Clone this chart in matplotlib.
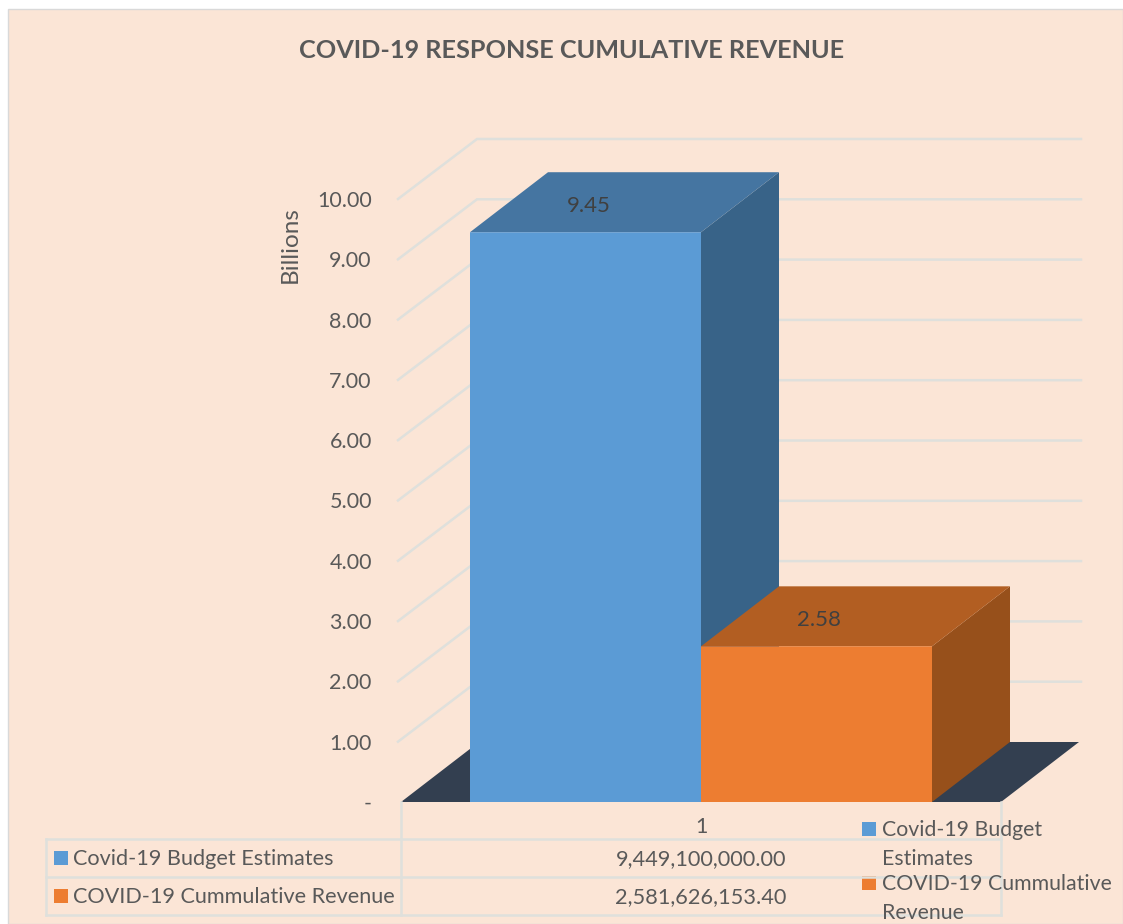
import matplotlib
matplotlib.use("Agg")
import matplotlib.pyplot as plt
from matplotlib.patches import Rectangle

plt.rcParams["font.family"] = ["Lato", "DejaVu Sans"]

W, H = 1123, 924
BG = "#fbe5d6"
GRID = "#dfe0dc"
TXT = "#595959"

# data
series = ["Covid-19 Budget Estimates", "COVID-19 Cummulative Revenue"]
legend_lines = [["Covid-19 Budget", "Estimates"], ["COVID-19 Cummulative", "Revenue"]]
amounts = [9449100000.00, 2581626153.40]
labels = ["9.45", "2.58"]
ticks = [0, 1, 2, 3, 4, 5, 6, 7, 8, 9, 10]
colors = ["#5b9bd5", "#ed7d31"]
top_colors = ["#4575a1", "#b25e22"]
side_colors = ["#386388", "#97501b"]

billions = [a / 1e9 for a in amounts]

fig = plt.figure(figsize=(W / 100, H / 100), dpi=100, facecolor="white")

# background and table live on a pixel axes
bg = fig.add_axes([0, 0, 1, 1], zorder=0)
bg.set_xlim(0, W)
bg.set_ylim(H, 0)
bg.axis("off")
bg.add_patch(Rectangle((8, 9), W - 8, H - 9, fc=BG, ec="#d9d9d9", lw=1))

# main axes is the front plane of the 3d box
ax = fig.add_axes([401 / W, 1 - 802 / H, 600 / W, 603 / H], zorder=1)
ax.patch.set_alpha(0)
px_x = 231.0          # pixels per bar width
px_y = 60.3           # pixels per billion
ax.set_xlim(-0.5 - 69 / px_x, 1.5 + 69 / px_x)
ax.set_ylim(0, 10)
for s in ax.spines.values():
    s.set_visible(False)

dx = 78 / px_x        # depth of the box in data units
dy = 60 / px_y
x0, x1 = ax.get_xlim()

# walls
for t in ticks[1:]:
    ax.plot([x0 - 3 / px_x, x0 + dx - 2 / px_x, x1 + dx + 2 / px_x], [t, t + dy, t + dy],
            color=GRID, lw=1.8, zorder=1, clip_on=False, solid_joinstyle="miter")

# floor
ax.fill([x0, x1, x1 + dx, x0 + dx], [0, 0, dy, dy], color="#333f50", lw=0, zorder=2, clip_on=False)

# bars, left one first so the right one sits in front of its side
positions = [0, 1]
for i in [0, 1]:
    p, v = positions[i], billions[i]
    l, r = p - 0.5, p + 0.5
    ax.fill([r, r + dx, r + dx, r], [0, dy, v + dy, v], color=side_colors[i], lw=0, zorder=3 + i, clip_on=False)
    ax.fill([l, r, r + dx, l + dx], [v, v, v + dy, v + dy], color=top_colors[i], lw=0, zorder=3 + i, clip_on=False)
    bar = ax.bar(p, v, width=1, color=colors[i], zorder=3 + i, clip_on=False)
    bar[0].set_snap(False)
    ax.text(p + 3 / px_x, v + 26 / px_y, labels[i], ha="center", va="center", fontsize=16, color="#404040", zorder=8)

ax.set_yticks(ticks)
ax.set_yticklabels(["-"] + ["%.2f" % t for t in ticks[1:]], fontsize=15.5, color=TXT)
ax.set_xticks([0.5])
ax.set_xticklabels(["1"], fontsize=15.5, color=TXT)
ax.tick_params(axis="y", length=0, pad=21)
ax.tick_params(axis="x", length=0, pad=11)

# overlay for axis title, table and legend
top = fig.add_axes([0, 0, 1, 1], zorder=2)
top.set_xlim(0, W)
top.set_ylim(H, 0)
top.axis("off")
top.patch.set_alpha(0)

top.text(572, 50, "COVID-19 RESPONSE CUMULATIVE REVENUE", ha="center", va="center",
         fontsize=18.2, fontweight="bold", color=TXT)
top.text(290, 245, "Billions", rotation=90, ha="center", va="center", fontsize=17.5, color=TXT)

# data table
for y in [839, 877, 915]:
    top.plot([46, 1001], [y, y], color=GRID, lw=1.8)
top.plot([46, 46], [839, 915], color=GRID, lw=1.8)
top.plot([401, 401], [802, 915], color=GRID, lw=1.8)
top.plot([1001, 1001], [802, 915], color=GRID, lw=1.8)

rows_y = [859, 897]
for i in range(2):
    top.add_patch(Rectangle((54, rows_y[i] - 8), 14, 14, fc=colors[i], lw=0))
    top.text(73, rows_y[i], series[i], ha="left", va="center", fontsize=15.55, color=TXT)
    top.text(701, rows_y[i], format(amounts[i], ",.2f"), ha="center", va="center", fontsize=15.65, color=TXT)

# legend
leg_y = [[830, 859], [884, 913]]
for i in range(2):
    top.add_patch(Rectangle((862, leg_y[i][0] - 8), 14, 14, fc=colors[i], lw=0))
    for j in range(2):
        top.text(882, leg_y[i][j], legend_lines[i][j], ha="left", va="center", fontsize=15.35, color=TXT)

fig.savefig("out.png", dpi=100)
